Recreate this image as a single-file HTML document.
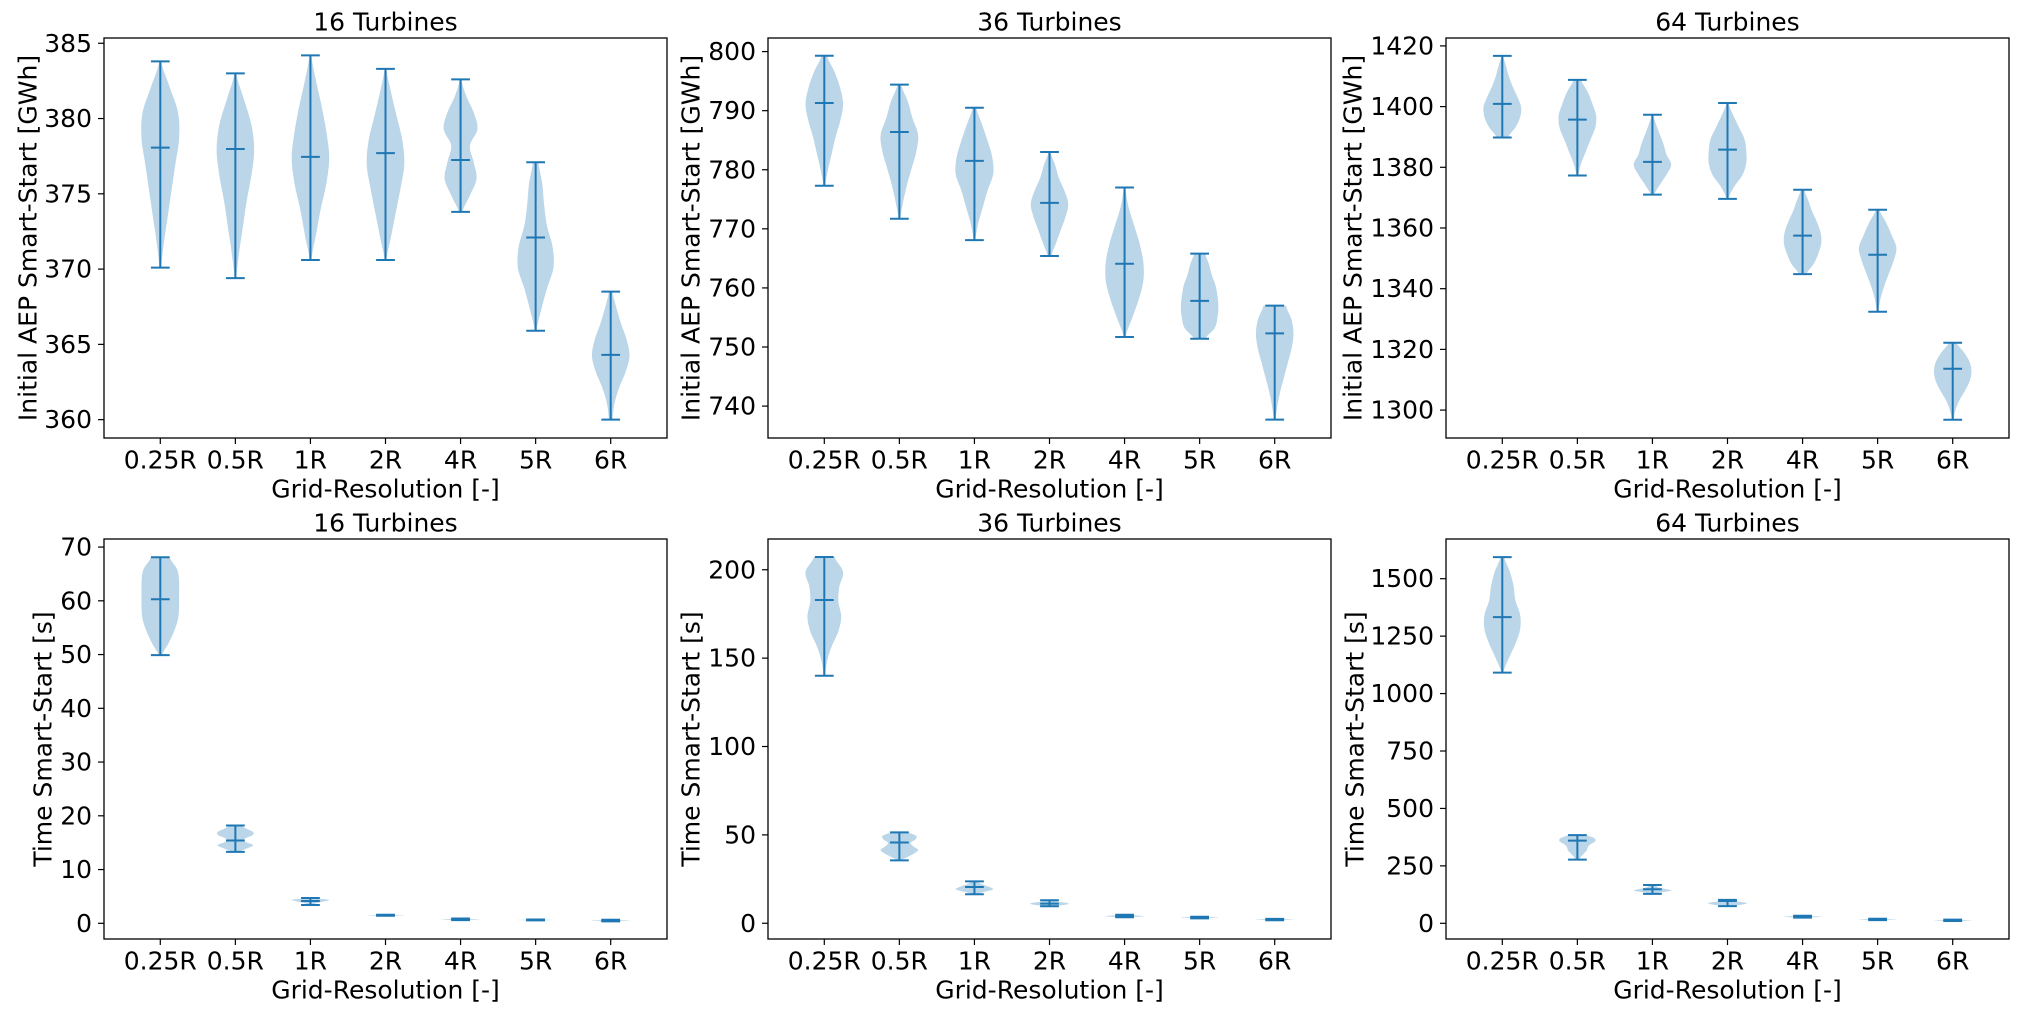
<!DOCTYPE html>
<html><head><meta charset="utf-8"><style>
html,body{margin:0;padding:0;background:#fff;}
svg text{font-family:"DejaVu Sans","Liberation Sans",sans-serif;fill:#000;}
</style></head><body>
<svg id="fig" width="2028" height="1015" viewBox="0 0 2028 1015" xmlns="http://www.w3.org/2000/svg"></svg>
<script>
const categories = ["0.25R","0.5R","1R","2R","4R","5R","6R"];
const titles = ["16 Turbines","36 Turbines","64 Turbines","16 Turbines","36 Turbines","64 Turbines"];
const yLabels = ["Initial AEP Smart-Start [GWh]","Initial AEP Smart-Start [GWh]","Initial AEP Smart-Start [GWh]","Time Smart-Start [s]","Time Smart-Start [s]","Time Smart-Start [s]"];
const yTicks = [
  [360,365,370,375,380,385],
  [740,750,760,770,780,790,800],
  [1300,1320,1340,1360,1380,1400,1420],
  [0,10,20,30,40,50,60,70],
  [0,50,100,150,200],
  [0,250,500,750,1000,1250,1500]
];
const yLims = [[358.78,385.35],[734.6,802.3],[1290.8,1422.6],[-2.92,71.5],[-8.9,217.4],[-68.3,1672.8]];
const mins = [
  [370.1,369.4,370.6,370.6,373.8,365.9,360.0],
  [777.3,771.7,768.1,765.4,751.7,751.4,737.7],
  [1389.8,1377.3,1371.0,1369.6,1344.8,1332.4,1296.8],
  [49.9,13.3,3.4,1.4,0.6,0.55,0.35],
  [140,35.6,16.4,9.6,3.4,2.8,1.7],
  [1091,277,128,75,25,14,10]
];
const maxs = [
  [383.8,383.0,384.2,383.3,382.6,377.1,368.5],
  [799.3,794.4,790.5,783.0,777.0,765.8,757.0],
  [1416.7,1408.8,1397.3,1401.2,1372.6,1366.0,1322.2],
  [68.1,18.2,4.7,1.6,0.9,0.7,0.65],
  [207.2,51.4,23.7,13.0,4.8,3.7,2.5],
  [1594,384,167,102,33,20,16]
];
const means = [
  [378.07,377.98,377.45,377.7,377.25,372.1,364.3],
  [791.3,786.4,781.5,774.4,764.1,757.8,752.3],
  [1400.9,1395.7,1381.8,1385.8,1357.5,1351.2,1313.6],
  [60.3,15.4,4.15,1.5,0.75,0.62,0.5],
  [182.9,45.7,20.5,11.1,4.1,3.2,2.1],
  [1333,360,148,97,29,17,13]
];
const G = [0.2,0.5,0.8,1,1,0.8,0.5,0.3,0.1];
const profiles = [
  [[0.05,0.2,0.4,0.6,0.8,1.0,0.95,0.5,0.05],[0.05,0.2,0.4,0.6,0.85,1.0,0.85,0.45,0.05],[0.05,0.3,0.55,0.85,1.0,0.85,0.6,0.3,0.05],[0.05,0.3,0.55,0.8,1.0,0.9,0.6,0.3,0.05],[0.1,0.5,0.85,0.7,0.5,0.9,0.7,0.3,0.05],[0.05,0.3,0.6,0.95,0.9,0.6,0.45,0.35,0.15],[0.1,0.2,0.45,0.8,1.0,0.85,0.55,0.3,0.1]],
  [[0.05,0.2,0.4,0.6,0.85,1.0,0.85,0.55,0.15],[0.05,0.2,0.4,0.65,0.9,1.0,0.7,0.45,0.1],[0.05,0.2,0.45,0.7,1.0,0.95,0.7,0.4,0.1],[0.1,0.35,0.6,0.85,1.0,0.8,0.5,0.3,0.05],[0.05,0.4,0.75,1.0,1.0,0.8,0.5,0.2,0.05],[0.3,0.8,0.95,1.0,0.95,0.85,0.65,0.5,0.3],[0.05,0.15,0.3,0.5,0.7,0.9,1.0,0.9,0.6]],
  [[0.3,0.7,0.95,1.0,0.8,0.55,0.35,0.2,0.05],[0.05,0.2,0.45,0.7,0.95,1.0,0.8,0.55,0.2],[0.1,0.4,0.75,1.0,0.75,0.6,0.4,0.2,0.05],[0.05,0.35,0.8,1.0,1.0,0.9,0.6,0.3,0.05],[0.2,0.6,0.85,1.0,0.95,0.75,0.5,0.3,0.1],[0.05,0.15,0.35,0.6,0.85,1.0,0.75,0.45,0.1],[0.05,0.15,0.35,0.65,0.9,1.0,0.9,0.6,0.2]],
  [[0.1,0.45,0.75,0.95,1.0,1.0,1.0,0.9,0.5],[0.2,0.6,0.95,0.55,0.5,0.9,0.95,0.6,0.3],[0.05,0.15,0.3,0.5,0.7,0.9,1.0,0.6,0.2],G,G,G,G],
  [[0.05,0.15,0.4,0.75,0.9,0.75,0.8,1.0,0.55],[0.1,0.45,0.8,1.0,0.75,0.6,0.85,0.9,0.5],[0.1,0.35,0.7,1.0,0.9,0.7,0.45,0.25,0.1],G,G,G,G],
  [[0.05,0.35,0.7,0.95,0.95,0.7,0.6,0.4,0.1],[0.1,0.2,0.35,0.5,0.55,0.7,0.95,0.9,0.5],[0.1,0.35,0.7,1,0.8,0.5,0.3,0.2,0.1],G,G,G,G]
];

const NS = "http://www.w3.org/2000/svg";
const svg = document.getElementById('fig');
const colL = [104,768,1446], AW = 563;
const rowT = [38,539], AH = 400;
const ylabOff = [76,77,93,61,77,91];
const C = "#1f77b4";
function mk(tag, attrs, parent){ const e=document.createElementNS(NS,tag); for(const k in attrs) e.setAttribute(k,attrs[k]); (parent||svg).appendChild(e); return e; }
function crSample(pr, t){
  const n=pr.length-1, j=Math.min(Math.floor(t),n-1), f=t-j;
  const p0=pr[Math.max(j-1,0)], p1=pr[j], p2=pr[j+1], p3=pr[Math.min(j+2,n)];
  const v=0.5*((2*p1)+(-p0+p2)*f+(2*p0-5*p1+4*p2-p3)*f*f+(-p0+3*p1-3*p2+p3)*f*f*f);
  return Math.max(0.02,Math.min(1.05,v));
}

for(let p=0;p<6;p++){
  const L = colL[p%3], T = rowT[Math.floor(p/3)], B = T+AH;
  const g = mk('g',{});
  
  
  const [y0,y1] = yLims[p];
  const ys = v => B - (v-y0)/(y1-y0)*AH;
  const xs = i => L + (i+1-0.25)/7.5*AW;
  for(let i=0;i<7;i++){
    const mn=mins[p][i], mx=maxs[p][i], pr=profiles[p][i], cx=xs(i), hw=0.25/7.5*AW;
    const N=80, right=[], left=[];
    for(let k=0;k<=N;k++){
      const t=k/N*(pr.length-1);
      const w=crSample(pr,t)*hw;
      const y=ys(mn+(mx-mn)*k/N);
      right.push((cx+w).toFixed(2)+','+y.toFixed(2));
      left.unshift((cx-w).toFixed(2)+','+y.toFixed(2));
    }
    const body = mk('polygon',{points:right.concat(left).join(' '),fill:C,'fill-opacity':0.3,stroke:'none'},g);
    
    
    const cw = 0.125/7.5*AW;
    const bar = mk('line',{x1:cx,x2:cx,y1:ys(mn),y2:ys(mx),stroke:C,'stroke-width':2},g);
    
    
    [mn,mx,means[p][i]].forEach((v,k)=>{
      const c = mk('line',{x1:cx-cw,x2:cx+cw,y1:ys(v),y2:ys(v),stroke:C,'stroke-width':2},g);
      
      
    });
  }
  const fr = mk('rect',{x:L,y:T,width:AW,height:AH,fill:'none',stroke:'#000','stroke-width':1.3},g);
  
  
  yTicks[p].forEach(v=>{
    const y=ys(v);
    mk('line',{x1:L-6,x2:L,y1:y,y2:y,stroke:'#000','stroke-width':1.2},g);
    const t=mk('text',{x:L-12,y:y,'text-anchor':'end','dominant-baseline':'central','font-size':25},g);
    t.textContent=v;
    
    
  });
  categories.forEach((c,i)=>{
    const x=xs(i);
    mk('line',{x1:x,x2:x,y1:B,y2:B+6,stroke:'#000','stroke-width':1.2},g);
    const t=mk('text',{x:x,y:B+22,'text-anchor':'middle','dominant-baseline':'central','font-size':25},g);
    t.textContent=c;
    
    
  });
  const xl=mk('text',{x:L+AW/2,y:B+51,'text-anchor':'middle','dominant-baseline':'central','font-size':25},g);
  xl.textContent='Grid-Resolution [-]';
  
  
  const yx=L-ylabOff[p], yy=T+AH/2;
  const yl=mk('text',{x:yx,y:yy,'text-anchor':'middle','dominant-baseline':'central','font-size':25,transform:`rotate(-90 ${yx} ${yy})`},g);
  yl.textContent=yLabels[p];
  
  
  const tt=mk('text',{x:L+AW/2,y:T-16,'text-anchor':'middle','dominant-baseline':'central','font-size':25},g);
  tt.textContent=titles[p];
  
  
}
</script>
</body></html>
